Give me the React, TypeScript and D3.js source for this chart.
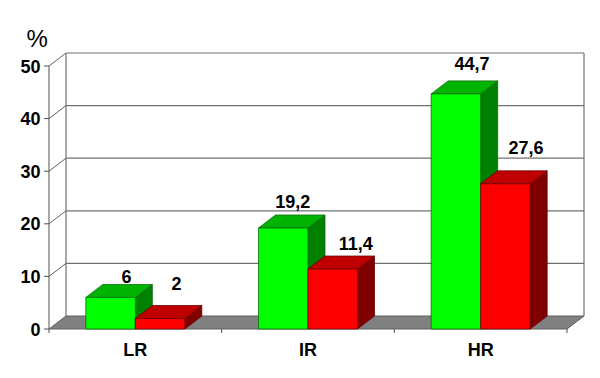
import React from "react";
import * as d3 from "d3";

const categories = ["LR", "IR", "HR"];
const seriesGreen = [6, 19.2, 44.7];
const seriesRed = [2, 11.4, 27.6];
const greenLabels = ["6", "19,2", "44,7"];
const redLabels = ["2", "11,4", "27,6"];
const yTicks = [0, 10, 20, 30, 40, 50];
// hand-placed label offsets, relative to each bar's front-top centre
const greenOffsetX = [16, 9.5, 16];
const greenOffsetY = [-14, -20, -24];
const redOffsetX = [16.5, 23, 20.5];
const redOffsetY = [-28, -19, -30];

const dx = 17, dy = -13;
const font = "'Liberation Sans', Arial, sans-serif";

const x = d3.scaleBand<string>().domain(categories).range([49, 567]).paddingInner(0).paddingOuter(0);
const y = d3.scaleLinear().domain([0, 50]).range([329, 66]);
const barW = 49.5;

function Bar3D({ x0, value, front, top, side, edge }: { x0: number; value: number; front: string; top: string; side: string; edge: string }) {
  const yt = y(value), y0 = y(0), x1 = x0 + barW;
  return (
    <g stroke={edge} strokeWidth={0.8} strokeLinejoin="round">
      <polygon points={`${x1},${yt} ${x1 + dx},${yt + dy} ${x1 + dx},${y0 + dy} ${x1},${y0}`} fill={side} />
      <polygon points={`${x0},${yt} ${x0 + dx},${yt + dy} ${x1 + dx},${yt + dy} ${x1},${yt}`} fill={top} />
      <rect x={x0} y={yt} width={barW} height={y0 - yt} fill={front} />
    </g>
  );
}

export default function App() {
  const y0 = y(0);
  return (
    <svg width={600} height={378} style={{ position: "absolute", left: 0, top: 0, background: "#fff" }}>
      <polygon points={`49,${y0} ${49 + dx},${y0 + dy} ${567 + dx},${y0 + dy} 567,${y0}`} fill="#808080" stroke="#606060" />
      <line x1={49} y1={y(50)} x2={49} y2={y0} stroke="#707070" strokeWidth={1.2} />
      <line x1={49 + dx} y1={y(50) + dy} x2={49 + dx} y2={y0 + dy} stroke="#707070" strokeWidth={1.2} />
      <line x1={567 + dx} y1={y(50) + dy} x2={567 + dx} y2={y0 + dy} stroke="#707070" strokeWidth={1.2} />
      {yTicks.map((t) => (
        <g key={t}>
          {t > 0 && <line x1={49 + dx} y1={y(t) + dy} x2={567 + dx} y2={y(t) + dy} stroke="#707070" strokeWidth={1.2} />}
          {t > 0 && <line x1={49} y1={y(t)} x2={49 + dx} y2={y(t) + dy} stroke="#606060" />}
          <line x1={44} y1={y(t)} x2={49} y2={y(t)} stroke="#505050" />
          <text x={40.5} y={y(t) + 6.5} textAnchor="end" fontFamily={font} fontWeight="bold" fontSize={18} fill="#000">{t}</text>
        </g>
      ))}
      {[...categories.map((c) => x(c)!), 567].map((p) => (
        <line key={p} x1={p} y1={y0} x2={p} y2={y0 + 4} stroke="#505050" />
      ))}
      <text x={26.5} y={47} fontFamily={font} fontSize={24} fill="#000">%</text>
      {categories.map((c, i) => {
        const mid = x(c)! + x.bandwidth() / 2;
        return (
          <g key={c}>
            <Bar3D x0={mid - barW} value={seriesGreen[i]} front="#00ff00" top="#00b300" side="#008000" edge="#0a6a0a" />
            <Bar3D x0={mid} value={seriesRed[i]} front="#ff0000" top="#c00000" side="#800000" edge="#6a0000" />
            <text x={mid} y={356} textAnchor="middle" fontFamily={font} fontWeight="bold" fontSize={18} fill="#000">{c}</text>
          </g>
        );
      })}
      {categories.map((c, i) => {
        const mid = x(c)! + x.bandwidth() / 2;
        return (
          <g key={c + "l"} fontFamily={font} fontWeight="bold" fontSize={18} fill="#000" textAnchor="middle">
            <text x={mid - barW / 2 + greenOffsetX[i]} y={y(seriesGreen[i]) + greenOffsetY[i]}>{greenLabels[i]}</text>
            <text x={mid + barW / 2 + redOffsetX[i]} y={y(seriesRed[i]) + redOffsetY[i]}>{redLabels[i]}</text>
          </g>
        );
      })}
    </svg>
  );
}
